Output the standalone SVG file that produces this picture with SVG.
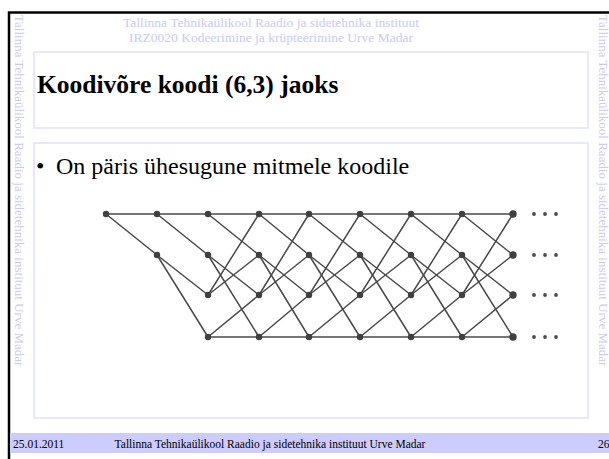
<svg xmlns="http://www.w3.org/2000/svg" width="609" height="459" viewBox="0 0 609 459">
<style>
.frame{stroke:#000;stroke-width:2.5;fill:none}
.box{fill:none;stroke:#d8d8ff;stroke-width:1.2}
.wm{font-family:"Liberation Serif",serif;fill:#cacaf2}
.edge{stroke:#4a4a4a;stroke-width:1.5;fill:none;stroke-linecap:round}
.node{fill:#404040}
.dot{fill:#4a4a4a}
.ft{font-family:"Liberation Serif",serif;font-size:11.5px;fill:#000}
</style>
<rect width="609" height="459" fill="#fff"/>
<g id="frame">
<path class="frame" d="M609 12.5H9V459"/>
<rect class="box" x="34" y="52" width="554" height="76"/>
<rect class="box" x="34" y="143" width="554" height="275"/>
</g>
<g id="watermarks">
<text class="wm" font-size="13" transform="translate(15,15) rotate(90)">Tallinna Tehnikaülikool Raadio ja sidetehnika instituut Urve Madar</text>
<text class="wm" font-size="13" transform="translate(599,15) rotate(90)">Tallinna Tehnikaülikool Raadio ja sidetehnika instituut Urve Madar</text>
<text class="wm" font-size="13.5" x="271" y="27" text-anchor="middle">Tallinna Tehnikaülikool Raadio ja sidetehnika instituut</text>
<text class="wm" font-size="13.5" x="271" y="42" text-anchor="middle">IRZ0020 Kodeerimine ja krüpteerimine Urve Madar</text>
</g>
<g id="title">
<text x="37" y="93" font-family="Liberation Serif,serif" font-weight="bold" font-size="25.5">Koodivõre koodi (6,3) jaoks</text>
</g>
<g id="bullet">
<text x="36" y="174" font-family="Liberation Serif,serif" font-size="24">•</text>
<text x="56" y="174" font-family="Liberation Serif,serif" font-size="24">On päris ühesugune mitmele koodile</text>
</g>
<g id="connectors">
<path class="edge" d="M106 214H513M208 337H513"/>
<path class="edge" d="M106 214L157 255M157 214L208 255M208 214L259 255M259 214L309 255M309 214L360 255M360 214L411 255M411 214L462 255M462 214L513 255"/>
<path class="edge" d="M157 255L208 295M208 255L259 295M259 255L309 295M309 255L360 295M360 255L411 295M411 255L462 295M462 255L513 295"/>
<path class="edge" d="M157 255L208 337M208 255L259 337M259 255L309 337M309 255L360 337M360 255L411 337M411 255L462 337M462 255L513 337"/>
<path class="edge" d="M208 295L259 214M259 295L309 214M309 295L360 214M360 295L411 214M411 295L462 214M462 295L513 214"/>
<path class="edge" d="M208 295L259 255M259 295L309 255M309 295L360 255M360 295L411 255M411 295L462 255M462 295L513 255"/>
<path class="edge" d="M208 337L259 295M259 337L309 295M309 337L360 295M360 337L411 295M411 337L462 295M462 337L513 295"/>
</g>
<g id="nodes">
<g id="col0"><circle class="node" cx="106" cy="214" r="3.2"/></g>
<g id="col1"><circle class="node" cx="157" cy="214" r="3.2"/><circle class="node" cx="157" cy="255" r="3.2"/></g>
<g id="col2"><circle class="node" cx="208" cy="214" r="3.2"/><circle class="node" cx="208" cy="255" r="3.2"/><circle class="node" cx="208" cy="295" r="3.2"/><circle class="node" cx="208" cy="337" r="3.2"/></g>
<g id="col3"><circle class="node" cx="259" cy="214" r="3.2"/><circle class="node" cx="259" cy="255" r="3.2"/><circle class="node" cx="259" cy="295" r="3.2"/><circle class="node" cx="259" cy="337" r="3.2"/></g>
<g id="col4"><circle class="node" cx="309" cy="214" r="3.2"/><circle class="node" cx="309" cy="255" r="3.2"/><circle class="node" cx="309" cy="295" r="3.2"/><circle class="node" cx="309" cy="337" r="3.2"/></g>
<g id="col5"><circle class="node" cx="360" cy="214" r="3.2"/><circle class="node" cx="360" cy="255" r="3.2"/><circle class="node" cx="360" cy="295" r="3.2"/><circle class="node" cx="360" cy="337" r="3.2"/></g>
<g id="col6"><circle class="node" cx="411" cy="214" r="3.2"/><circle class="node" cx="411" cy="255" r="3.2"/><circle class="node" cx="411" cy="295" r="3.2"/><circle class="node" cx="411" cy="337" r="3.2"/></g>
<g id="col7"><circle class="node" cx="462" cy="214" r="3.2"/><circle class="node" cx="462" cy="255" r="3.2"/><circle class="node" cx="462" cy="295" r="3.2"/><circle class="node" cx="462" cy="337" r="3.2"/></g>
<g id="col8"><circle class="node" cx="513" cy="214" r="3.7"/><circle class="node" cx="513" cy="255" r="3.7"/><circle class="node" cx="513" cy="295" r="3.7"/><circle class="node" cx="513" cy="337" r="3.7"/></g>
<g id="ellipses">
<circle class="dot" cx="534" cy="214" r="1.9"/><circle class="dot" cx="545" cy="214" r="1.9"/><circle class="dot" cx="556" cy="214" r="1.9"/>
<circle class="dot" cx="534" cy="255" r="1.9"/><circle class="dot" cx="545" cy="255" r="1.9"/><circle class="dot" cx="556" cy="255" r="1.9"/>
<circle class="dot" cx="534" cy="295" r="1.9"/><circle class="dot" cx="545" cy="295" r="1.9"/><circle class="dot" cx="556" cy="295" r="1.9"/>
<circle class="dot" cx="534" cy="337" r="1.9"/><circle class="dot" cx="545" cy="337" r="1.9"/><circle class="dot" cx="556" cy="337" r="1.9"/>
</g>
</g>
<g id="footer">
<rect x="10" y="433" width="599" height="20" fill="#ccccff"/>
<text class="ft" x="13" y="448">25.01.2011</text>
<text class="ft" x="270" y="448" font-size="11" text-anchor="middle">Tallinna Tehnikaülikool Raadio ja sidetehnika instituut Urve Madar</text>
<text class="ft" x="598" y="448">26</text>
</g>
</svg>
